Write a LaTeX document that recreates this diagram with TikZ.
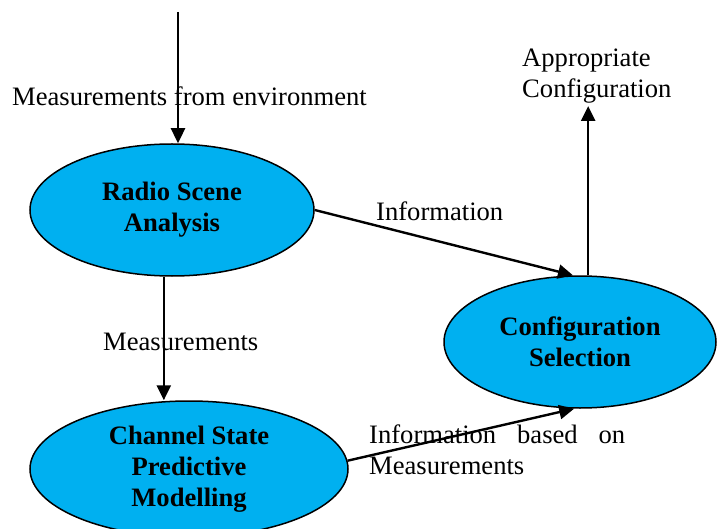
\documentclass[tikz,border=0pt]{standalone}
\usepackage{fontspec}
\setmainfont{Liberation Serif}
\usetikzlibrary{shapes.geometric,arrows.meta}
\definecolor{nodeblue}{HTML}{00B0F0}
\begin{document}
\begin{tikzpicture}[x=1pt,y=-1pt,
  proc/.style={ellipse,draw=black,line width=1.5pt,fill=nodeblue,inner sep=0pt,
    align=center,font=\fontsize{26.6}{31}\selectfont\bfseries},
  flow/.style={line width=2.4pt,-{Triangle[length=15pt,width=14pt]}},
  lbl/.style={inner sep=0pt,font=\fontsize{26.6}{31}\selectfont,align=left}]
\useasboundingbox (0,0) rectangle (717,529);
\node[proc,minimum width=284pt,minimum height=132pt] (r) at (172,210) {Radio Scene\\Analysis};
\node[proc,minimum width=272pt,minimum height=132pt] (c) at (580,342) {Configuration\\Selection};
\node[proc,minimum width=318pt,minimum height=136pt] (ch) at (189,469) {Channel State\\Predictive\\Modelling};
\coordinate (in) at (178,12);
\coordinate (out) at (588,106);
\draw[flow] (in) -- (in |- r.north);
\draw[flow] (r.east) -- (c.96);
\draw[flow] (c.83) -- (c.83 |- out);
\draw[flow] (r.263) -- (r.263 |- ch.north);
\draw[flow] (ch.3) -- (c.265);
\node[lbl,anchor=base west] (l1) at (12,106) {Measurements from environment};
\node[lbl,anchor=base west] (l2) at (522,98) {Appropriate\\Configuration};
\node[lbl,anchor=base west] (l3) at (376,221) {Information};
\node[lbl,anchor=base west] (l4) at (103,350) {Measurements};
\node[lbl,anchor=base west] (l5) at (369,474) {\hbox to 256pt{Information\hfill based\hfill on}\\Measurements};
\end{tikzpicture}
\end{document}
